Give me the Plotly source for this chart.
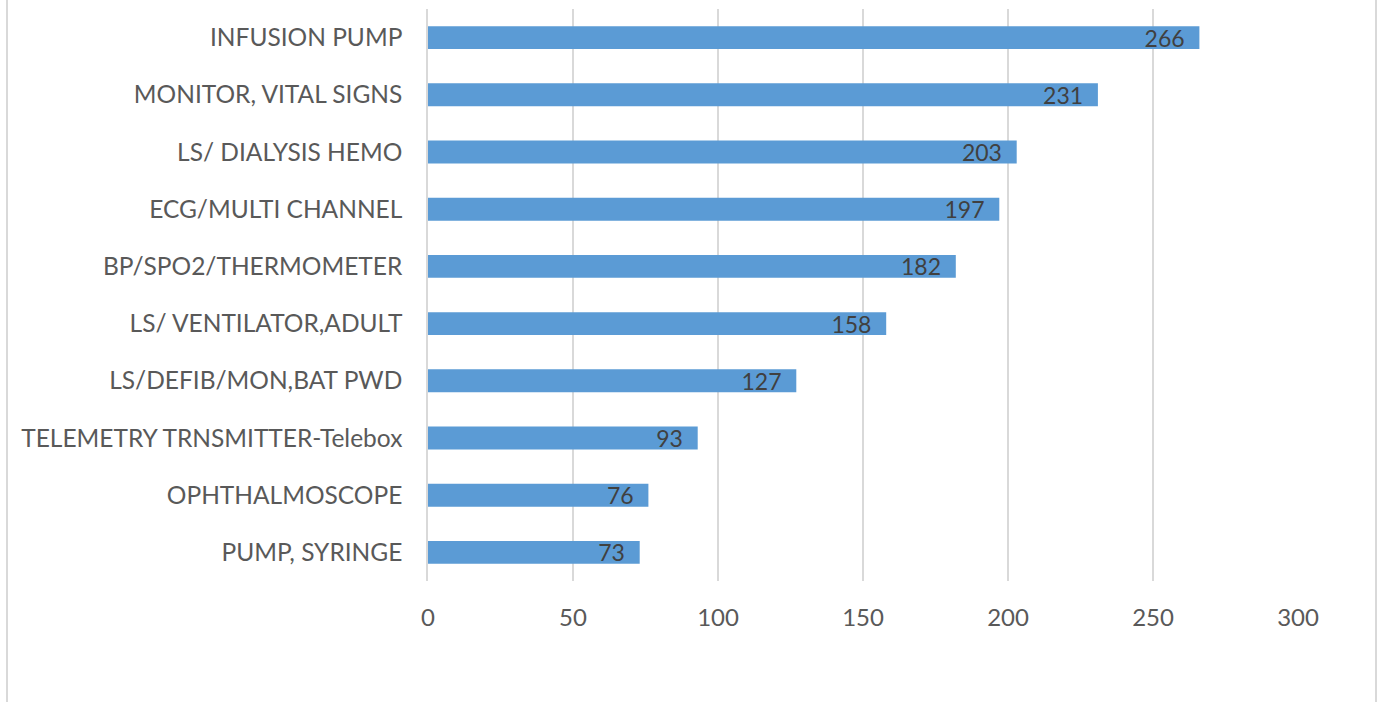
import plotly.graph_objects as go

categories = ["PUMP, SYRINGE", "OPHTHALMOSCOPE", "TELEMETRY TRNSMITTER-Telebox",
              "LS/DEFIB/MON,BAT PWD", "LS/ VENTILATOR,ADULT", "BP/SPO2/THERMOMETER",
              "ECG/MULTI CHANNEL", "LS/ DIALYSIS HEMO", "MONITOR, VITAL SIGNS", "INFUSION PUMP"]
values = [73, 76, 93, 127, 158, 182, 197, 203, 231, 266]
x_ticks = [0, 50, 100, 150, 200, 250, 300]

FONT = "Lato"

fig = go.Figure(go.Bar(
    x=values, y=categories, orientation="h",
    marker=dict(color="#5b9bd5", line=dict(width=0)),
    text=[str(v) + "\u00a0\u00a0" for v in values],
    textposition="inside", insidetextanchor="end", constraintext="none", textangle=0,
    textfont=dict(family=FONT, size=23, color="#404040"),
    hoverinfo="skip",
))

fig.update_layout(
    width=1382, height=702,
    margin=dict(l=428, r=84, t=9, b=121),
    paper_bgcolor="white", plot_bgcolor="white",
    bargap=0.6, showlegend=False,
    font=dict(family=FONT, size=24, color="#595959"),
    xaxis=dict(range=[0, 300], tickvals=x_ticks, showgrid=True, gridcolor="#d9d9d9",
               gridwidth=1.5, zeroline=False, showline=False, ticks="",
               tickfont=dict(family=FONT, size=24, color="#595959"), ticklabelstandoff=20),
    yaxis=dict(showline=True, linecolor="#d9d9d9", linewidth=1.5, ticks="",
               showgrid=False, tickfont=dict(family=FONT, size=24.5, color="#595959"),
               ticklabelstandoff=19),
    shapes=[
        dict(type="line", xref="paper", yref="paper", x0=-421/870, x1=-421/870,
             y0=-121/572, y1=1+9/572, line=dict(color="#d9d9d9", width=2)),
        dict(type="line", xref="paper", yref="paper", x0=1+78/870, x1=1+78/870,
             y0=-121/572, y1=1+9/572, line=dict(color="#d9d9d9", width=2)),
    ],
)

fig.write_html("out.html")
